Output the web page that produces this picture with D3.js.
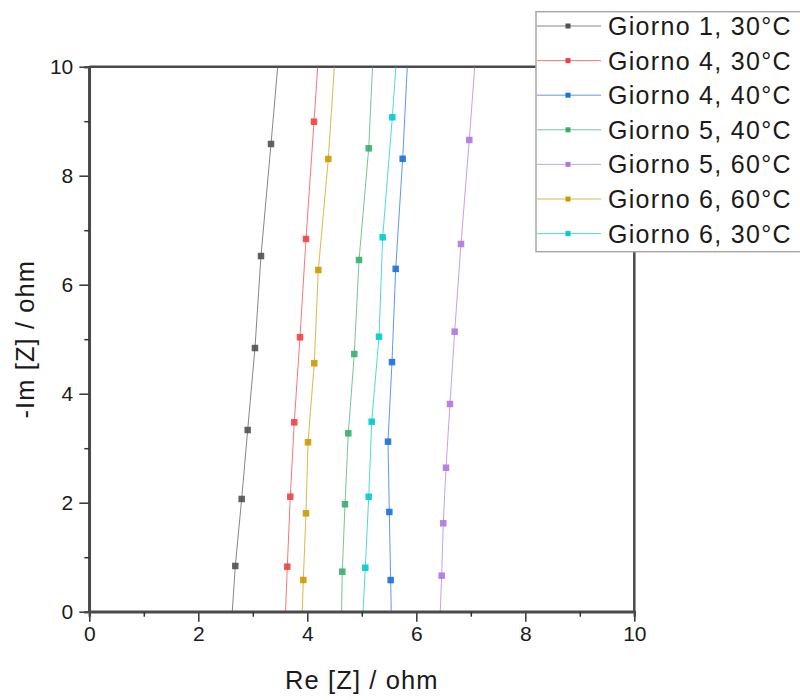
<!DOCTYPE html>
<head>
  <meta charset="utf-8" />
  <script src="https://cdn.jsdelivr.net/npm/d3@7"></script>
  <style>
    body {
      margin: 0;
      background-color: #fff;
    }
    text {
      font-family: "Liberation Sans", Arial, sans-serif;
      fill: #1a1a1a;
    }
  </style>
</head>

<body>
  <script>
    // series, in legend order
    var labels = [
      "Giorno 1, 30°C",
      "Giorno 4, 30°C",
      "Giorno 4, 40°C",
      "Giorno 5, 40°C",
      "Giorno 5, 60°C",
      "Giorno 6, 60°C",
      "Giorno 6, 30°C"
    ];
    var colors = ["#515151", "#F14040", "#1A6FDF", "#37AD6B", "#B177DE", "#CC9900", "#00CBCC"];

    // Re[Z] and -Im[Z] per series (first/last points lie outside the axes)
    var re1 = [2.59, 2.679, 2.796, 2.906, 3.04, 3.15, 3.334, 3.5];
    var im1 = [-0.5, 0.839, 2.068, 3.334, 4.838, 6.526, 8.582, 10.5];
    var re2 = [3.58, 3.633, 3.688, 3.761, 3.866, 3.976, 4.123, 4.225];
    var im2 = [-0.5, 0.826, 2.11, 3.475, 5.035, 6.839, 8.991, 10.5];
    var re3 = [5.55, 5.53, 5.505, 5.481, 5.554, 5.622, 5.75, 5.86];
    var im3 = [-0.5, 0.58, 1.83, 3.12, 4.58, 6.29, 8.31, 10.5];
    var re4 = [4.62, 4.642, 4.692, 4.752, 4.862, 4.949, 5.127, 5.22];
    var im4 = [-0.5, 0.734, 1.971, 3.273, 4.728, 6.453, 8.503, 10.5];
    var re5 = [6.42, 6.466, 6.495, 6.545, 6.618, 6.704, 6.82, 6.972, 7.11];
    var im5 = [-0.5, 0.661, 1.622, 2.642, 3.811, 5.138, 6.747, 8.655, 10.5];
    var re6 = [3.89, 3.927, 3.976, 4.013, 4.128, 4.202, 4.385, 4.53];
    var im6 = [-0.5, 0.582, 1.806, 3.108, 4.558, 6.27, 8.306, 10.5];
    var re7 = [5.0, 5.064, 5.127, 5.182, 5.316, 5.383, 5.56, 5.66];
    var im7 = [-0.5, 0.807, 2.11, 3.486, 5.046, 6.87, 9.072, 10.5];

    var xTicks = [0, 2, 4, 6, 8, 10];
    var yTicks = [0, 2, 4, 6, 8, 10];
    var minorTicks = [1, 3, 5, 7, 9];

    var reAll = [re1, re2, re3, re4, re5, re6, re7];
    var imAll = [im1, im2, im3, im4, im5, im6, im7];
    var series = labels.map(function(l, i) {
      return {
        label: l,
        color: colors[i],
        pts: reAll[i].map(function(r, j) { return [r, imAll[i][j]]; })
      };
    });

    var pLeft = 89.3, pRight = 634.3, pTop = 66.7, pBottom = 611.7;

    var svg = d3
      .select("body")
      .append("svg")
      .attr("width", 800)
      .attr("height", 700);

    var x = d3.scaleLinear().domain([0, 10]).range([pLeft, pRight]);
    var y = d3.scaleLinear().domain([0, 10]).range([pBottom, pTop]);

    svg.append("defs")
      .append("clipPath")
      .attr("id", "plotclip")
      .append("rect")
      .attr("x", pLeft)
      .attr("y", pTop)
      .attr("width", pRight - pLeft)
      .attr("height", pBottom - pTop);

    // frame (top and right)
    svg.append("path")
      .attr("d", "M" + pLeft + "," + pTop + "H" + pRight + "V" + pBottom)
      .attr("fill", "none")
      .attr("stroke", "#4a4a4a")
      .attr("stroke-width", 2.5);

    var plot = svg.append("g").attr("clip-path", "url(#plotclip)");

    var line = d3.line()
      .x(d => x(d[0]))
      .y(d => y(d[1]));

    series.forEach(s => {
      plot.append("path")
        .datum(s.pts)
        .attr("d", line)
        .attr("fill", "none")
        .attr("stroke", s.color)
        .attr("stroke-opacity", 0.7)
        .attr("stroke-width", 1);
    });

    series.forEach(s => {
      plot.selectAll(null)
        .data(s.pts)
        .enter()
        .append("rect")
        .attr("x", d => x(d[0]) - 3.25)
        .attr("y", d => y(d[1]) - 3.25)
        .attr("width", 6.5)
        .attr("height", 6.5)
        .attr("fill", s.color)
        .attr("fill-opacity", 0.9);
    });

    // axes
    var xAxis = svg.append("g")
      .attr("transform", "translate(0," + pBottom + ")")
      .call(d3.axisBottom(x).tickValues(xTicks).tickSize(10).tickPadding(4).tickFormat(d3.format("d")));
    xAxis.append("g")
      .call(d3.axisBottom(x).tickValues(minorTicks).tickSize(5).tickFormat(""));

    var yAxis = svg.append("g")
      .attr("transform", "translate(" + pLeft + ",0)")
      .call(d3.axisLeft(y).tickValues(yTicks).tickSize(10).tickPadding(6).tickFormat(d3.format("d")));
    yAxis.append("g")
      .call(d3.axisLeft(y).tickValues(minorTicks).tickSize(5).tickFormat(""));

    svg.selectAll(".domain")
      .attr("stroke", "#4a4a4a")
      .attr("stroke-width", 2.5);
    svg.selectAll(".tick line")
      .attr("stroke", "#333")
      .attr("stroke-width", 1.5);
    svg.selectAll(".tick text")
      .style("font-size", "21px")
      .attr("fill", "#222");
    xAxis.select(".domain").attr("d", "M" + pLeft + ",0H" + pRight);
    yAxis.select(".domain").attr("d", "M0," + pTop + "V" + pBottom);

    svg.append("text")
      .attr("x", (pLeft + pRight) / 2)
      .attr("y", 689)
      .attr("text-anchor", "middle")
      .style("font-size", "25.5px")
      .style("letter-spacing", "1.1px")
      .text("Re [Z] / ohm");

    svg.append("text")
      .attr("transform", "translate(34," + (pTop + pBottom) / 2 + ") rotate(-90)")
      .attr("text-anchor", "middle")
      .style("font-size", "25.5px")
      .style("letter-spacing", "1.1px")
      .text("-Im [Z] / ohm");

    // legend
    var lg = svg.append("g");
    lg.append("rect")
      .attr("x", 536)
      .attr("y", 11.7)
      .attr("width", 275)
      .attr("height", 240)
      .attr("fill", "#fff")
      .attr("stroke", "#a8a8a8")
      .attr("stroke-width", 1.5);

    var item = lg.selectAll("g.item")
      .data(series)
      .enter()
      .append("g")
      .attr("transform", (d, i) => "translate(0," + (26 + i * 34.6) + ")");
    item.append("line")
      .attr("x1", 537)
      .attr("x2", 601)
      .attr("stroke", d => d.color)
      .attr("stroke-opacity", 0.7)
      .attr("stroke-width", 1);
    item.append("rect")
      .attr("x", 565.5)
      .attr("y", -2.5)
      .attr("width", 5)
      .attr("height", 5)
      .attr("fill", d => d.color);
    item.append("text")
      .attr("x", 608)
      .attr("dy", "0.36em")
      .style("font-size", "25px")
      .style("letter-spacing", "1.3px")
      .text(d => d.label);
  </script>
</body>
